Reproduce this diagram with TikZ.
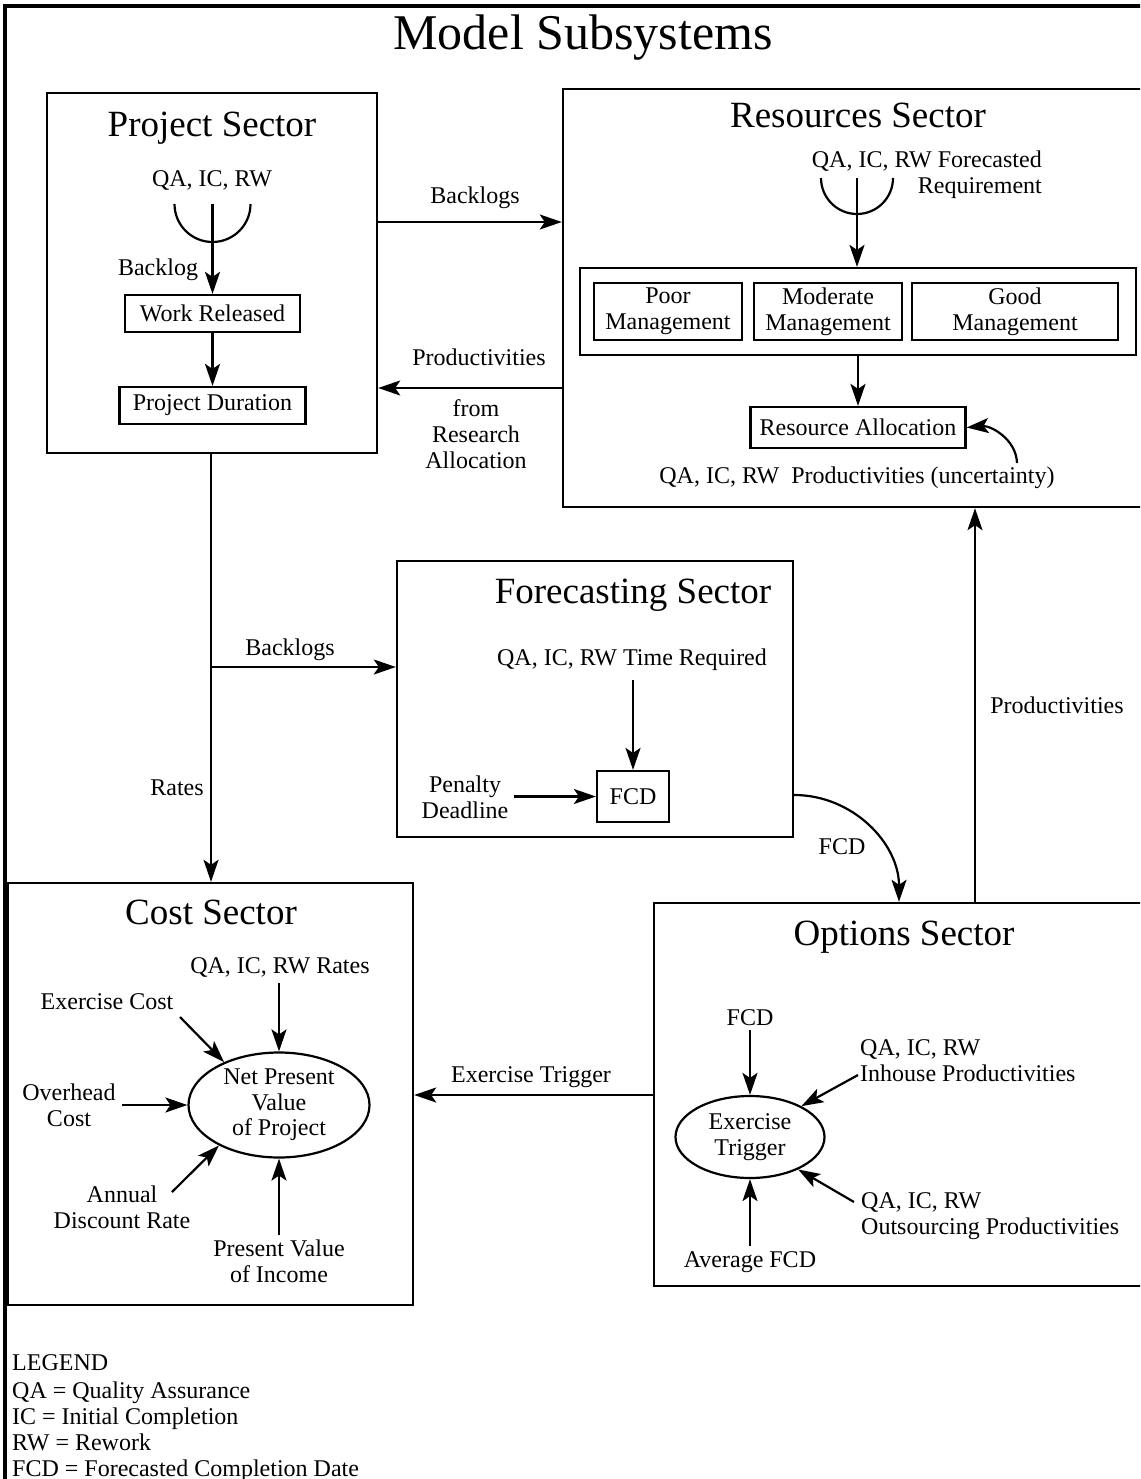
\documentclass[tikz,border=0pt]{standalone}
\usepackage{fontspec}
\setmainfont{Liberation Serif}
\usetikzlibrary{arrows.meta,shapes.geometric,calc}
\begin{document}
\begin{tikzpicture}[x=1pt,y=-1pt,
  sector/.style={draw, line width=2.4pt, inner sep=0pt},
  ibox/.style={draw, line width=2.2pt, inner sep=0pt, align=center,
    font=\fontsize{24}{26}\selectfont},
  oval/.style={draw, ellipse, line width=2.2pt, inner sep=0pt, align=center,
    font=\fontsize{24}{25.5}\selectfont},
  txt/.style={inner sep=0pt, align=center, font=\fontsize{24}{26}\selectfont},
  stitle/.style={inner sep=0pt, font=\fontsize{37}{40}\selectfont},
  conn/.style={line width=2.2pt},
  arr/.style={line width=2.2pt, -{Stealth[length=22pt,width=15pt,inset=5pt]}}
]
% page and clipping
\useasboundingbox (0,0) rectangle (1140,1479);
\fill[white] (0,0) rectangle (1140,1479);
\clip (0,0) rectangle (1140,1479);

% outer frame (top and left edges)
\draw[line width=4pt] (5,1485) -- (5,6) -- (1145,6);

% title
\node[inner sep=0pt, font=\fontsize{50}{52}\selectfont] (title) at (583,38) {Model Subsystems};

% ---------------- Project Sector ----------------
\node[sector, minimum width=330pt, minimum height=360pt] (proj) at (212,273) {};
\node[stitle] (projT) at (212,128) {Project Sector};
\node[txt] (projQ) at (212,181) {QA, IC, RW};
\coordinate (projAL) at (174.5,204);
\coordinate (projJ) at (212.5,204);
\draw[conn] (projAL) arc[start angle=180, end angle=360, radius=38pt];
\node[txt] (projBk) at (158,270) {Backlog};
\node[ibox, minimum width=175pt, minimum height=37pt] (wr) at (212.5,313.5) {Work Released};
\node[ibox, minimum width=186pt, minimum height=37pt] (pd) at (212.5,405.5) {Project Duration};
\draw[arr] (projJ) -- (wr.north);
\draw[arr] (wr.south) -- (pd.north);

% ---------------- Resources Sector ----------------
\node[sector, minimum width=600pt, minimum height=418pt] (res) at (863,298) {};
\node[stitle] (resT) at (858,115) {Resources Sector};
\node[txt, align=right, anchor=east] (resQ) at (1042,175) {QA, IC, RW Forecasted\\Requirement};
\coordinate (resAL) at (821,178);
\coordinate (resJ) at (857,178);
\draw[conn] (resAL) arc[start angle=180, end angle=360, radius=36pt];
\node[ibox, minimum width=556pt, minimum height=87pt] (mgmt) at (858,311.5) {};
\node[ibox, minimum width=148pt, minimum height=57pt] (poor) at (668,311.5) {Poor\\Management};
\node[ibox, minimum width=148pt, minimum height=57pt] (mod) at (828,311.5) {Moderate\\Management};
\node[ibox, minimum width=206pt, minimum height=57pt] (good) at (1015,311.5) {Good\\Management};
\node[ibox, minimum width=215pt, minimum height=41pt] (ra) at (858,427.5) {Resource Allocation};
\node[txt] (resU) at (857,478) {QA, IC, RW\ \ Productivities (uncertainty)};
\coordinate (resUc) at (1017,463);
\draw[arr] (resJ) -- (resJ |- mgmt.north);
\draw[arr] (mgmt.south) -- (ra.north);
\draw[arr] (resUc) to[out=92, in=5] (ra.east);

% links between Project and Resources
\coordinate (bkY) at (0,222);
\coordinate (prY) at (0,388);
\draw[arr] (proj.east |- bkY) -- (res.west |- bkY);
\draw[arr] (res.west |- prY) -- (proj.east |- prY);
\node[txt] (lblBk1) at (475,198) {Backlogs};
\node[txt] (lblPr1) at (479,357) {Productivities};
\node[txt] (lblFrom) at (476,434) {from\\Research\\Allocation};

% ---------------- Forecasting Sector ----------------
\node[sector, minimum width=396pt, minimum height=276pt] (fore) at (595,699) {};
\node[stitle] (foreT) at (633,595) {Forecasting Sector};
\node[txt] (foreQ) at (632,660) {QA, IC, RW Time Required};
\node[ibox, minimum width=72pt, minimum height=51pt] (fcd) at (633,796.5) {FCD};
\node[txt] (pen) at (465,797) {Penalty\\Deadline};
\draw[arr, shorten <=9pt] (fcd.north |- foreQ.south) -- (fcd.north);
\draw[arr, shorten <=5pt] (pen.east |- fcd.west) -- (fcd.west);

% ---------------- Cost Sector ----------------
\node[sector, minimum width=405pt, minimum height=422pt] (cost) at (210.5,1094) {};
\node[stitle] (costT) at (211,912) {Cost Sector};
\node[txt] (costQ) at (280,967) {QA, IC, RW Rates};
\node[oval, minimum width=181pt, minimum height=105pt] (npv) at (279,1105) {Net Present\\Value\\of Project};
\node[txt] (exc) at (107,1002) {Exercise Cost};
\node[txt] (ovh) at (69,1105) {Overhead\\Cost};
\node[txt] (adr) at (122,1207) {Annual\\Discount Rate};
\node[txt] (pvi) at (279,1261) {Present Value\\of Income};
\coordinate (excS) at (180,1017);
\coordinate (adrS) at (172,1192);
\draw[arr, shorten <=6pt] (npv.north |- costQ.south) -- (npv.north);
\draw[arr] (excS) -- (npv.142);
\draw[arr, shorten <=6pt] (ovh.east) -- (npv.west);
\draw[arr] (adrS) -- (npv.214);
\draw[arr, shorten <=4pt] (npv.south |- pvi.north) -- (npv.south);

% trunk from Project to Cost with branch to Forecasting
\coordinate (brJ) at (211,667);
\draw[arr] (proj.south -| brJ) -- (cost.north -| brJ);
\draw[arr] (brJ) -- (fore.west |- brJ);
\node[txt] (lblBk2) at (290,650) {Backlogs};
\node[txt] (lblRates) at (177,788) {Rates};

% ---------------- Options Sector ----------------
\node[sector, minimum width=509pt, minimum height=383pt] (opt) at (908.5,1094.5) {};
\node[stitle] (optT) at (904,937) {Options Sector};
\node[txt] (optF) at (750,1018) {FCD};
\node[oval, minimum width=149pt, minimum height=82pt] (trig) at (750,1137) {Exercise\\Trigger};
\node[txt, align=left, anchor=west] (inh) at (860,1060.5) {QA, IC, RW\\Inhouse Productivities};
\node[txt, align=left, anchor=west] (outs) at (861,1216.5) {QA, IC, RW\\Outsourcing Productivities};
\node[txt] (avg) at (750,1262) {Average FCD};
\coordinate (inhS) at (858,1075);
\coordinate (outS) at (854,1202);
\draw[arr, shorten <=4pt] (trig.north |- optF.south) -- (trig.north);
\draw[arr] (inhS) -- (trig.31);
\draw[arr] (outS) -- (trig.326);
\draw[arr, shorten <=5pt] (trig.south |- avg.north) -- (trig.south);

% Options to Cost, Options to Resources, Forecasting to Options
\coordinate (etY) at (0,1095);
\draw[arr] (opt.west |- etY) -- (cost.east |- etY);
\node[txt] (lblEt) at (531,1077) {Exercise Trigger};
\coordinate (pvX) at (975,0);
\draw[arr] (opt.north -| pvX) -- (res.south -| pvX);
\node[txt] (lblPr2) at (1057,705) {Productivities};
\coordinate (fcY) at (0,795);
\coordinate (fcX) at (899,0);
\draw[arr] (fore.east |- fcY) to[out=0, in=90] (opt.north -| fcX);
\node[txt] (lblFcd) at (842,847) {FCD};

% ---------------- Legend ----------------
\node[txt, anchor=base west] (lg0) at (12,1370) {LEGEND};
\node[txt, anchor=base west] (lg1) at (12,1398) {QA = Quality Assurance};
\node[txt, anchor=base west] (lg2) at (12,1424) {IC = Initial Completion};
\node[txt, anchor=base west] (lg3) at (12,1450) {RW = Rework};
\node[txt, anchor=base west] (lg4) at (12,1476) {FCD = Forecasted Completion Date};
\end{tikzpicture}
\end{document}
